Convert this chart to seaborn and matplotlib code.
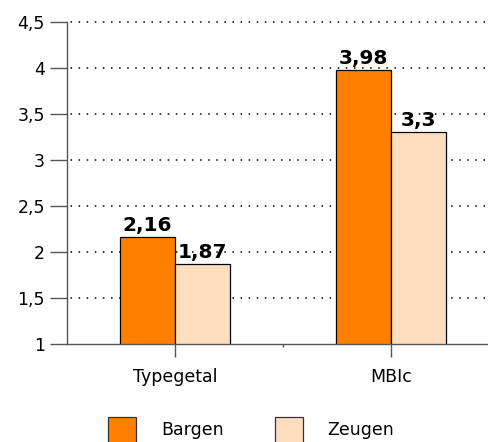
import matplotlib
matplotlib.use("Agg")
import matplotlib.pyplot as plt
import seaborn as sns
import pandas as pd
from matplotlib.patches import Patch
from matplotlib.ticker import FixedLocator, FixedFormatter

categories = ["Typegetal", "MBIc"]
series = ["Bargen", "Zeugen"]
bargen = [2.16, 3.98]
zeugen = [1.87, 3.3]
value_labels_bargen = ["2,16", "3,98"]
value_labels_zeugen = ["1,87", "3,3"]
y_ticks = [1, 1.5, 2, 2.5, 3, 3.5, 4, 4.5]
y_tick_labels = ["1", "1,5", "2", "2,5", "3", "3,5", "4", "4,5"]
colors = ["#FF8000", "#FFDEBF"]

df = pd.DataFrame({
    "cat": categories * 2,
    "series": [series[0]] * 2 + [series[1]] * 2,
    "value": bargen + zeugen,
})

sns.set_style("white")
plt.rcParams["font.family"] = ["DejaVu Sans"]
plt.rcParams["text.color"] = "black"
plt.rcParams["xtick.color"] = "black"
plt.rcParams["ytick.color"] = "black"

fig = plt.figure(figsize=(4.89, 4.42), dpi=100)
ax = fig.add_axes([67/489, 1-344/442, 1-67/489, (344-22)/442])

sns.barplot(data=df, x="cat", y="value", hue="series", palette=colors,
            order=categories, hue_order=series, width=0.51, dodge=True,
            edgecolor="black", linewidth=0.9, saturation=1, legend=False, ax=ax)

ax.set_ylim(1, 4.5)
ax.set_xlim(-0.5, 1.454)
ax.yaxis.set_major_locator(FixedLocator(y_ticks))
ax.yaxis.set_major_formatter(FixedFormatter(y_tick_labels))
ax.set_xlabel("")
ax.set_ylabel("")

ax.grid(axis="y", linestyle=(3, (1, 4.3)), color="black", linewidth=1.1)
ax.set_axisbelow(True)
for i, gl in enumerate(ax.yaxis.get_gridlines()):
    gl.set_clip_on(False)
    if i == 0:
        gl.set_visible(False)
for s in ["top", "right"]:
    ax.spines[s].set_visible(False)
for s in ["left", "bottom"]:
    ax.spines[s].set_color("#555555")
    ax.spines[s].set_linewidth(1.0)

ax.tick_params(axis="y", direction="out", length=12, width=1, color="#555555",
               labelsize=12.5, labelcolor="black", pad=4, left=True)
ax.tick_params(axis="x", direction="out", length=9, width=1, color="#555555",
               labelsize=12.5, labelcolor="black", pad=8, bottom=True)
ax.xaxis.set_minor_locator(FixedLocator([0.5]))
ax.tick_params(axis="x", which="minor", length=2.5, width=1, color="#555555", bottom=True)

for container, labs in zip(ax.containers, [value_labels_bargen, value_labels_zeugen]):
    ax.bar_label(container, labels=labs, fontsize=14.5, fontweight="bold",
                 color="black", padding=1.5)

handles = [Patch(facecolor=c, edgecolor="#333333", linewidth=0.9) for c in colors]
fig.legend(handles, series, loc="upper left", bbox_to_anchor=(108/489, 1-417/442),
           ncol=2, frameon=False, fontsize=12.5, handlelength=1.6, handleheight=1.9,
           handletextpad=1.45, columnspacing=2.95, borderpad=0, borderaxespad=0)

fig.savefig("out.png", dpi=100)
